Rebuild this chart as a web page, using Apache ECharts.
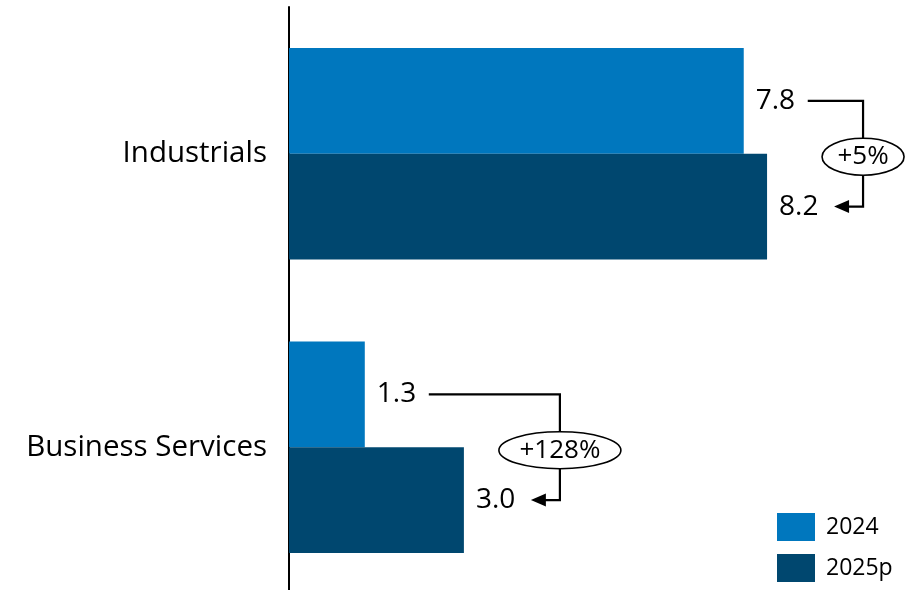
<!DOCTYPE html>
<html><head><meta charset="utf-8">
<script src="https://cdn.jsdelivr.net/npm/echarts@6/dist/echarts.min.js"></script>
<style>html,body{margin:0;padding:0;background:#fff}#c{width:916px;height:590px}</style>
</head><body><div id="c"></div>
<script>
const categories = ['Industrials', 'Business Services'];
const seriesNames = ['2024', '2025p'];
const values2024 = [7.8, 1.3];
const values2025 = [8.2, 3.0];
const changeLabels = ['+5%', '+128%'];

const FONT = '"Open Sans", "Noto Sans", sans-serif';
const C1 = '#0077BE', C2 = '#00476F';
const GRID_TOP = 7, GRID_H = 587;
const chart = echarts.init(document.getElementById('c'));
const labelStyle = {show: true, position: 'right', distance: 12, color: '#000', fontSize: 28, fontFamily: FONT, formatter: p => p.value.toFixed(1)};
const legendBase = {orient: 'vertical', left: 777, padding: 0, itemWidth: 38, itemHeight: 28, icon: 'rect',
  textStyle: {fontSize: 23, fontFamily: FONT, color: '#000', padding: [0,0,0,6]}};
chart.setOption({
  animation: false,
  grid: {left: 289, top: GRID_TOP, height: GRID_H, width: 583, outerBoundsMode: 'none'},
  xAxis: {type: 'value', min: 0, max: 10, show: false},
  yAxis: {type: 'category', data: categories, inverse: true,
    axisLine: {lineStyle: {color: '#000', width: 2}}, axisTick: {show: false},
    axisLabel: {fontSize: 29.5, color: '#000', fontFamily: FONT, margin: 22}},
  legend: [
    Object.assign({}, legendBase, {top: 513, data: [seriesNames[0]]}),
    Object.assign({}, legendBase, {top: 554, data: [seriesNames[1]]})
  ],
  series: [
    {name: seriesNames[0], type: 'bar', data: values2024, barGap: '0%', barCategoryGap: '28%', itemStyle: {color: C1}, label: labelStyle},
    {name: seriesNames[1], type: 'bar', data: values2025, barGap: '0%', barCategoryGap: '28%', itemStyle: {color: C2}, label: labelStyle}
  ]
});

function addAnnotations() {
  const band = GRID_H / categories.length;
  const barW = band * (1 - 0.28) / 2;
  const els = [];
  categories.forEach((cat, i) => {
    const cy = chart.convertToPixel({gridIndex: 0}, [0, i])[1];
    const x1 = chart.convertToPixel({gridIndex: 0}, [values2024[i], i])[0];
    const x2 = chart.convertToPixel({gridIndex: 0}, [values2025[i], i])[0];
    const y1 = cy - barW / 2, y2 = cy + barW / 2;
    const vx = x2 + 96;
    const startX = x1 + 64;
    const tipX = x2 + 67;
    els.push({type: 'polyline', shape: {points: [[startX, y1], [vx, y1], [vx, y2], [tipX + 12, y2]]},
      style: {stroke: '#000', lineWidth: 2.2, fill: null}});
    els.push({type: 'polygon', shape: {points: [[tipX, y2], [tipX + 15, y2 - 6.5], [tipX + 15, y2 + 6.5]]}, style: {fill: '#000'}});
    const rx = i === 0 ? 41 : 61;
    els.push({type: 'ellipse', shape: {cx: vx, cy: cy + 3, rx: rx, ry: 18.5}, style: {fill: '#fff', stroke: '#000', lineWidth: 1.6}});
    els.push({type: 'text', x: vx, y: cy + 3, style: {text: changeLabels[i], fontSize: 26, fontFamily: FONT, fill: '#000', align: 'center', verticalAlign: 'middle'}});
  });
  chart.setOption({graphic: els});
}
addAnnotations();
</script></body></html>
